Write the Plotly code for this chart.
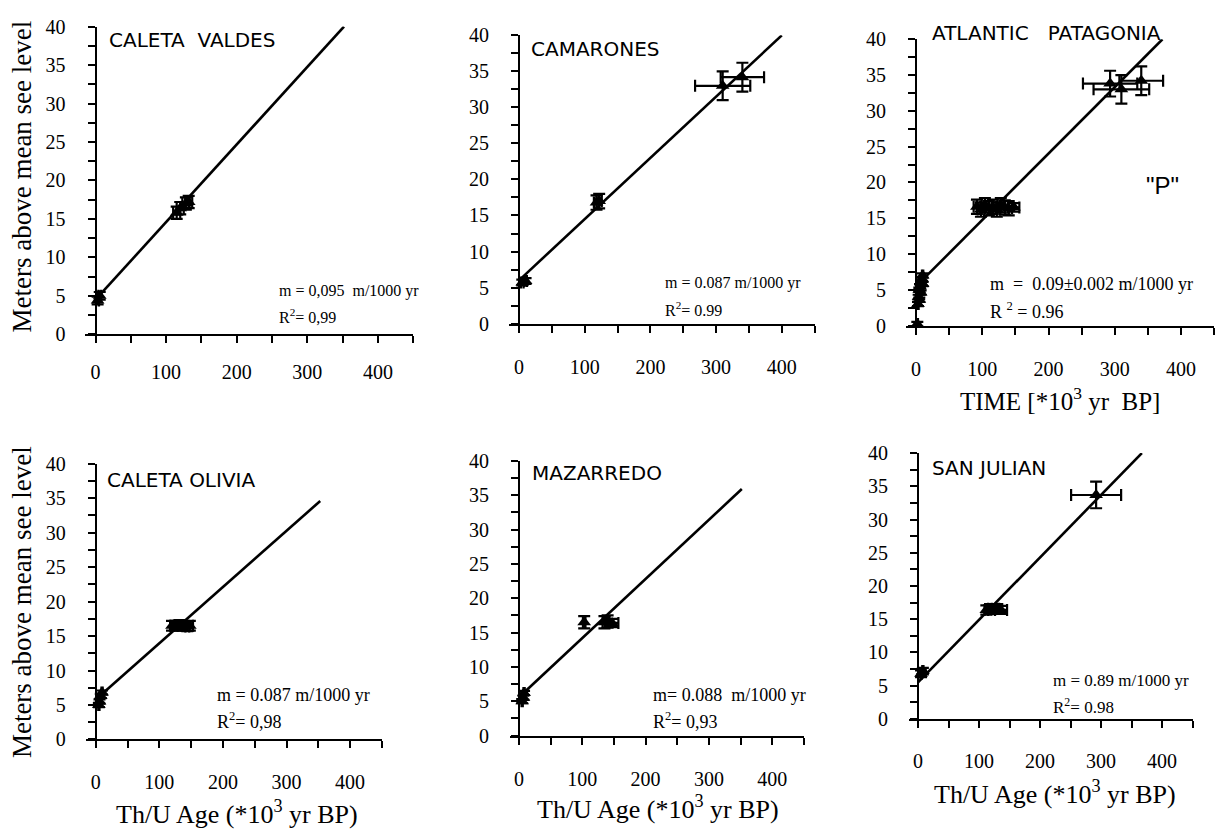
import plotly.graph_objects as go

W, H = 1226, 840

# ---------------- DATA ----------------
panel_titles = ["CALETA  VALDES", "CAMARONES", "ATLANTIC   PATAGONIA",
                "CALETA OLIVIA", "MAZARREDO", "SAN JULIAN"]

# Caleta Valdes
cv_age = [3, 6, 115, 120, 128, 132]
cv_elev = [4.4, 5.0, 15.8, 16.4, 17.0, 17.2]
cv_age_err = [2, 2, 5, 5, 5, 5]
cv_elev_err = [0.5, 0.5, 0.8, 0.8, 0.8, 0.8]
cv_fit_age = [0, 352]
cv_fit_elev = [4.5, 40]

# Camarones
cm_age = [5, 10, 118, 122, 310, 340]
cm_elev = [5.7, 5.9, 16.8, 17.0, 33.0, 34.2]
cm_age_err = [2, 2, 4, 4, 42, 33]
cm_elev_err = [0.4, 0.4, 1.0, 1.0, 2.0, 2.0]
cm_fit_age = [0, 400]
cm_fit_elev = [6.0, 40]

# Atlantic Patagonia
ap_age = [2, 3, 4, 5, 5, 6, 7, 8, 9, 10, 10,
          92, 98, 104, 110, 116, 122, 128, 134, 140, 148,
          293, 310, 340]
ap_elev = [0.2, 3.0, 4.0, 3.6, 5.0, 5.5, 4.6, 6.0, 6.5, 7.0, 5.8,
           16.6, 16.2, 16.8, 16.4, 16.6, 16.2, 16.8, 16.5, 16.4, 16.5,
           33.8, 33.0, 34.2]
ap_age_err = [1, 1, 1, 1, 1, 1, 1, 1, 1, 1, 1,
              5, 5, 5, 5, 5, 5, 5, 5, 5, 8,
              41, 42, 33]
ap_elev_err = [0.3, 0.3, 0.3, 0.3, 0.3, 0.3, 0.3, 0.3, 0.3, 0.3, 0.3,
               1.0, 1.0, 1.0, 1.0, 1.0, 1.0, 1.0, 1.0, 1.0, 0.6,
               1.8, 2.0, 2.0]
ap_fit_age = [8, 372]
ap_fit_elev = [6.2, 40]

# Caleta Olivia
co_age = [5, 6, 8, 10, 120, 126, 132, 138, 144, 148]
co_elev = [5.0, 5.5, 6.3, 6.8, 16.5, 16.5, 16.6, 16.5, 16.4, 16.5]
co_age_err = [1, 1, 1, 1, 3, 3, 3, 3, 3, 5]
co_elev_err = [0.3, 0.3, 0.3, 0.3, 0.7, 0.7, 0.7, 0.7, 0.7, 0.7]
co_fit_age = [5, 353]
co_fit_elev = [6.2, 34.6]

# Mazarredo
mz_age = [5, 7, 8, 103, 135, 140, 147]
mz_elev = [5.0, 5.5, 6.2, 16.5, 16.5, 16.6, 16.4]
mz_age_err = [1, 1, 1, 2, 3, 3, 10]
mz_elev_err = [0.3, 0.3, 0.3, 0.9, 0.9, 0.9, 0.6]
mz_fit_age = [5, 352]
mz_fit_elev = [6.0, 35.9]

# San Julian
sj_age = [5, 8, 112, 118, 124, 130, 136, 292]
sj_elev = [6.8, 7.2, 16.4, 16.6, 16.5, 16.6, 16.4, 33.7]
sj_age_err = [1, 1, 3, 3, 3, 3, 10, 41]
sj_elev_err = [0.5, 0.5, 0.7, 0.7, 0.7, 0.7, 0.6, 2.0]
sj_fit_age = [0, 367]
sj_fit_elev = [5.5, 40]

slope_texts = ["m = 0,095  m/1000 yr", "m = 0.087 m/1000 yr",
               "m  =  0.09\u00b10.002 m/1000 yr", "m = 0.087 m/1000 yr",
               "m= 0.088  m/1000 yr", "m = 0.89 m/1000 yr"]
r2_texts = ["R<sup>2</sup>= 0,99", "R<sup>2</sup>= 0.99", "R <sup>2</sup> = 0.96",
            "R<sup>2</sup>= 0,98", "R<sup>2</sup>= 0,93", "R<sup>2</sup>= 0.98"]

y_title = "Meters above mean see level"
x_title_time = "TIME [*10<sup>3</sup> yr  BP]"
x_title_thu = "Th/U Age (*10<sup>3</sup> yr BP)"

x_ticks = [0, 100, 200, 300, 400]
y_ticks = [0, 5, 10, 15, 20, 25, 30, 35, 40]

panels = [
    (cv_age, cv_elev, cv_age_err, cv_elev_err, cv_fit_age, cv_fit_elev),
    (cm_age, cm_elev, cm_age_err, cm_elev_err, cm_fit_age, cm_fit_elev),
    (ap_age, ap_elev, ap_age_err, ap_elev_err, ap_fit_age, ap_fit_elev),
    (co_age, co_elev, co_age_err, co_elev_err, co_fit_age, co_fit_elev),
    (mz_age, mz_elev, mz_age_err, mz_elev_err, mz_fit_age, mz_fit_elev),
    (sj_age, sj_elev, sj_age_err, sj_elev_err, sj_fit_age, sj_fit_elev),
]

# ---------------- LAYOUT (pixels) ----------------
# (pixel of x=0, pixels per x unit, top pixel of y=40, bottom pixel of y=0)
geom = [
    (95.5, 0.706, 16, 332),
    (519, 0.657, 25, 321),
    (916, 0.6625, 29, 323),
    (95.7, 0.636, 465, 748),
    (519, 0.633, 462, 744),
    (918, 0.61, 454, 727),
]
XMIN, XMAX = -15, 450
x_standoff = [12, 17, 17, 17, 17, 16]

title_pos = [(107, 30), (529, 39), (930, 23), (105, 482), (530, 474), (930, 469)]
slope_pos = [(277, 288), (663, 279), (988, 280), (215, 702), (651, 702), (1051, 688)]
r2_pos = [(277, 313), (663, 306), (988, 308), (215, 729), (651, 729), (1051, 714)]
stat_size = [16, 16, 18, 18, 18, 17]


def px(x):
    return x / W


def py(y):
    return 1 - y / H


FONT_SERIF = "Liberation Serif, Times New Roman, Times, serif"
FONT_SANS = "Liberation Sans, Arial, Helvetica, sans-serif"

fig = go.Figure()
annotations = []
layout = {}

for i, (g, data) in enumerate(zip(geom, panels)):
    x0, sc, ytop, ybot = g
    age, elev, age_err, elev_err, fit_age, fit_elev = data
    n = i + 1
    xa = "x" if n == 1 else f"x{n}"
    ya = "y" if n == 1 else f"y{n}"
    xkey = "xaxis" if n == 1 else f"xaxis{n}"
    ykey = "yaxis" if n == 1 else f"yaxis{n}"

    fig.add_trace(go.Scatter(
        x=fit_age, y=fit_elev, mode="lines",
        line=dict(color="black", width=2.6),
        xaxis=xa, yaxis=ya, showlegend=False, hoverinfo="skip"))
    fig.add_trace(go.Scatter(
        x=age, y=elev, mode="markers",
        marker=dict(symbol="triangle-up", size=12, color="black"),
        error_x=dict(type="data", array=age_err, color="black", thickness=2.2, width=6),
        error_y=dict(type="data", array=elev_err, color="black", thickness=2.2, width=6),
        cliponaxis=False,
        xaxis=xa, yaxis=ya, showlegend=False))

    dl = x0 + XMIN * sc
    dr = x0 + XMAX * sc
    tickfont = dict(family=FONT_SERIF, size=20, color="black")
    layout[xkey] = dict(
        domain=[px(dl), px(dr)], range=[XMIN, XMAX], anchor=ya,
        showline=True, linecolor="black", linewidth=2,
        tickmode="array", tickvals=x_ticks, ticks="outside", ticklen=7,
        tickwidth=2, tickcolor="black",
        minor=dict(dtick=50, tick0=0, ticks="outside", ticklen=7,
                   tickwidth=2, tickcolor="black", showgrid=False),
        showgrid=False, zeroline=False, fixedrange=True,
        ticklabelstandoff=x_standoff[i],
        tickfont=tickfont)
    layout[ykey] = dict(
        domain=[py(ybot), py(ytop)], range=[0, 40], anchor="free",
        position=px(x0),
        showline=True, linecolor="black", linewidth=2,
        tickmode="array", tickvals=y_ticks, ticks="outside", ticklen=7,
        tickwidth=2, tickcolor="black",
        minor=dict(dtick=2.5, tick0=0, ticks="outside", ticklen=7,
                   tickwidth=2, tickcolor="black", showgrid=False),
        showgrid=False, zeroline=False, fixedrange=True,
        ticklabelstandoff=18,
        tickfont=tickfont)

    tx, ty = title_pos[i]
    annotations.append(dict(
        text=panel_titles[i], x=px(tx), y=py(ty), xref="paper", yref="paper",
        xanchor="left", yanchor="middle", showarrow=False,
        font=dict(family="DejaVu Sans", size=20, color="black")))
    sx, sy = slope_pos[i]
    annotations.append(dict(
        text=slope_texts[i], x=px(sx), y=py(sy), xref="paper", yref="paper",
        xanchor="left", yanchor="middle", showarrow=False,
        font=dict(family=FONT_SERIF, size=stat_size[i], color="black")))
    rx, ry = r2_pos[i]
    annotations.append(dict(
        text=r2_texts[i], x=px(rx), y=py(ry), xref="paper", yref="paper",
        xanchor="left", yanchor="middle", showarrow=False,
        font=dict(family=FONT_SERIF, size=stat_size[i], color="black")))

# "P" label in Atlantic Patagonia panel
annotations.append(dict(
    text='"P"', x=372, y=19.5, xref="x3", yref="y3", xanchor="center",
    yanchor="middle", showarrow=False,
    font=dict(family=FONT_SANS, size=24, color="black")))

# y-axis titles (left column)
for cy in (170, 607):
    annotations.append(dict(
        text=y_title, x=px(22), y=py(cy), xref="paper", yref="paper",
        xanchor="center", yanchor="middle", textangle=-90, showarrow=False,
        font=dict(family=FONT_SERIF, size=27, color="black")))

# x-axis titles
for txt, cx, cy, fs in [(x_title_time, 1060, 398, 25), (x_title_thu, 237, 823, 26),
                        (x_title_thu, 658, 818, 26), (x_title_thu, 1055, 803, 26)]:
    annotations.append(dict(
        text=txt, x=px(cx), y=py(cy), xref="paper", yref="paper",
        xanchor="center", yanchor="middle", showarrow=False,
        font=dict(family=FONT_SERIF, size=fs, color="black")))

fig.update_layout(
    width=W, height=H, margin=dict(l=0, r=0, t=0, b=0),
    paper_bgcolor="white", plot_bgcolor="white",
    font=dict(family=FONT_SERIF, size=20, color="black"),
    annotations=annotations, **layout)

fig.write_html("out.html")
